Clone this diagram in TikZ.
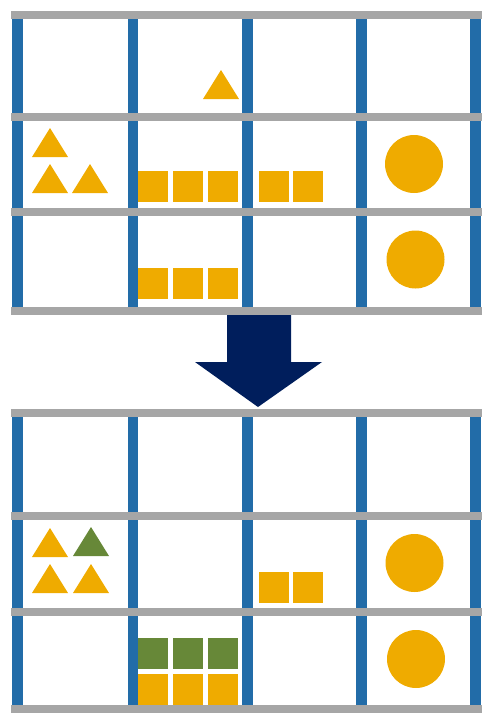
\documentclass[tikz,border=0pt]{standalone}
\definecolor{postblue}{HTML}{226CA8}
\definecolor{shelfgray}{HTML}{A6A6A6}
\definecolor{itemyellow}{HTML}{EFAB00}
\definecolor{itemgreen}{HTML}{678838}
\definecolor{arrownavy}{HTML}{001E5C}
\tikzset{
  post/.style={fill=postblue},
  shelf/.style={fill=shelfgray},
  ylw/.style={fill=itemyellow},
  grn/.style={fill=itemgreen},
  bigarrow/.style={fill=arrownavy}
}
\newcommand{\rackposts}[2]{%
  \foreach \xa/\xb in {12/23,128/138,242/253,356/367,470/481}
    \fill[post] (\xa,#1) rectangle (\xb,#2);}
\newcommand{\sq}[3]{\fill[#1] (#2,#3) rectangle ++(30,31);}
\newcommand{\tri}[4]{\fill[#1] (#2,#4) -- ++(36,0) -- ++(-18,-29) -- cycle;}
\begin{document}
\begin{tikzpicture}[x=1pt,y=-1pt]
\useasboundingbox (0,0) rectangle (482,713);
% ---------- top rack ----------
\rackposts{14}{311}
\foreach \ya/\yb in {10.5/18.5,112.5/120.5,208/216,307/315}
  \fill[shelf] (11,\ya) rectangle (482,\yb);
% row 1
\tri{ylw}{203}{0}{99}
% row 2
\tri{ylw}{32}{0}{157}
\tri{ylw}{32}{0}{193}
\tri{ylw}{72}{0}{193}
\sq{ylw}{138}{171}\sq{ylw}{173}{171}\sq{ylw}{208}{171}
\sq{ylw}{259}{171}\sq{ylw}{293}{171}
\fill[ylw] (414,164) circle (29);
% row 3
\sq{ylw}{138}{268}\sq{ylw}{173}{268}\sq{ylw}{208}{268}
\fill[ylw] (415.5,259.5) circle (29);
% ---------- arrow ----------
\fill[bigarrow] (227,315) -- (291,315) -- (291,362) -- (322,362) -- (258,407)
  -- (195,362) -- (227,362) -- cycle;
% ---------- bottom rack ----------
\rackposts{413}{709}
\foreach \ya/\yb in {409/417,512/520,608/616,705/713}
  \fill[shelf] (11,\ya) rectangle (482,\yb);
% row 2
\tri{ylw}{32}{0}{557}
\tri{grn}{73}{0}{556}
\tri{ylw}{32}{0}{593}
\tri{ylw}{73}{0}{593}
\sq{ylw}{259}{572}\sq{ylw}{293}{572}
\fill[ylw] (414.5,563) circle (29);
% row 3
\sq{grn}{138}{638}\sq{grn}{173}{638}\sq{grn}{208}{638}
\sq{ylw}{138}{674}\sq{ylw}{173}{674}\sq{ylw}{208}{674}
\fill[ylw] (416,659) circle (29);
\end{tikzpicture}
\end{document}
